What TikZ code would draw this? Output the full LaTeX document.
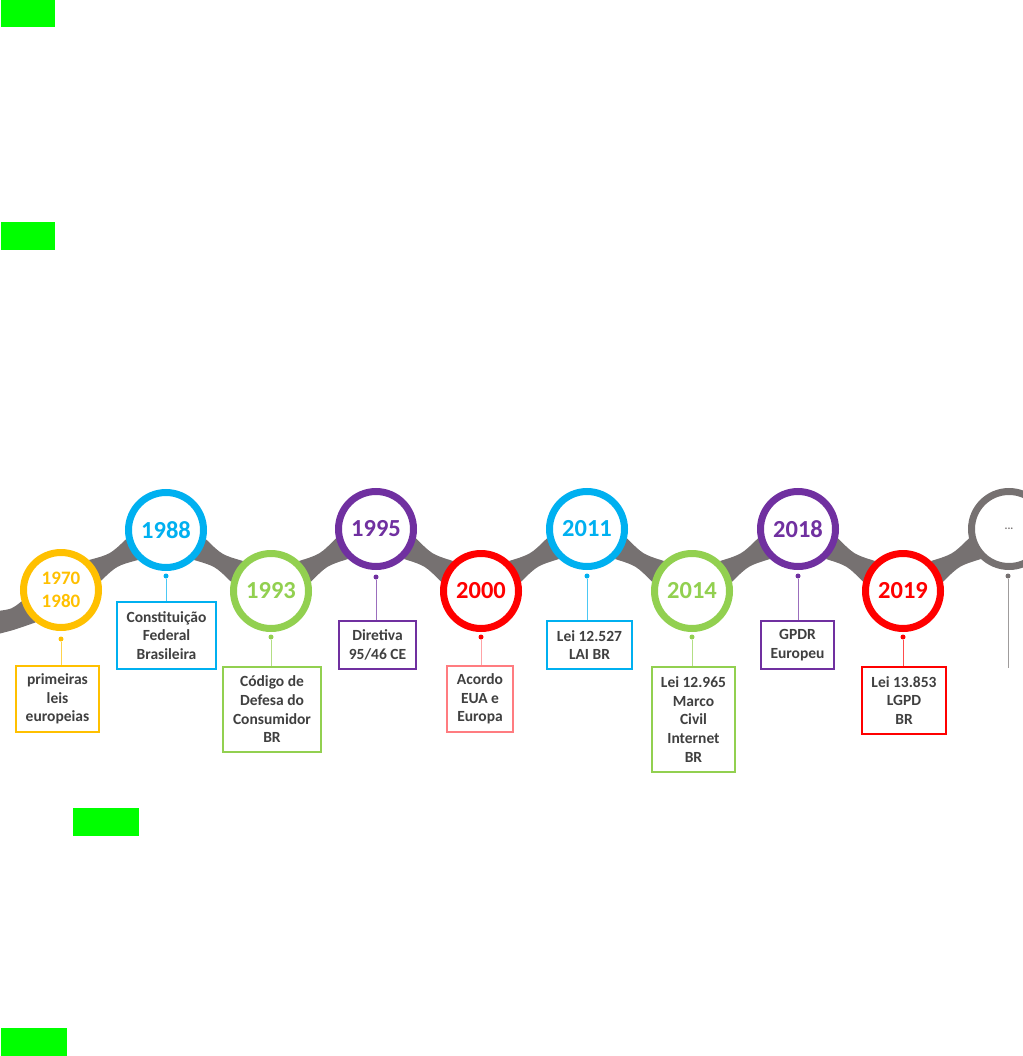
\documentclass[tikz,border=0pt]{standalone}
\usepackage{fontspec}
\setmainfont{Carlito}
\usepackage{tikz}
\usetikzlibrary{positioning,backgrounds,calc}
\definecolor{tlyellow}{RGB}{255,192,0}
\definecolor{tlblue}{RGB}{0,176,240}
\definecolor{tlgreen}{RGB}{146,208,80}
\definecolor{tlpurple}{RGB}{112,48,160}
\definecolor{tlred}{RGB}{255,0,0}
\definecolor{tlpink}{RGB}{255,124,128}
\definecolor{tlgray}{RGB}{118,113,113}
\definecolor{tltext}{RGB}{64,64,64}
\definecolor{marker}{RGB}{0,255,0}

\begin{document}
\begin{tikzpicture}[x=1pt, y=-1pt,
    yearc/.style={circle, draw=#1, line width=7pt, fill=white, minimum size=75pt, inner sep=0pt,
                  text=#1, align=center, font=\bfseries\fontsize{24.5}{26}\selectfont},
    evbox/.style={draw=#1, line width=1.6pt, fill=white, align=center, inner sep=0pt,
                  text=tltext, font=\bfseries\fontsize{15.5}{18.7}\selectfont},
    pindot/.style={circle, fill=#1, inner sep=0pt, minimum size=5pt},
    pinline/.style={draw=#1!70, line width=0.9pt},
    band/.style={fill=tlgray}
]
\useasboundingbox (0,0) rectangle (1022,1056);
% green markers
\fill[marker] (1,0) rectangle (55,27);
\fill[marker] (1,222) rectangle (55,250);
\fill[marker] (73,808) rectangle (139,836);
\fill[marker] (1,1028) rectangle (67,1056);

% year circles
\node[yearc=tlyellow, font=\bfseries\fontsize{19}{23}\selectfont] (c1) at (61,590) {1970\\1980};
\node[yearc=tlblue]   (c2) at (166,530) {1988};
\node[yearc=tlgreen]  (c3) at (271,591) {1993};
\node[yearc=tlpurple] (c4) at (376,529) {1995};
\node[yearc=tlred]    (c5) at (481,591) {2000};
\node[yearc=tlblue]   (c6) at (587,529) {2011};
\node[yearc=tlgreen]  (c7) at (692,591) {2014};
\node[yearc=tlpurple] (c8) at (798,529) {2018};
\node[yearc=tlred]    (c9) at (903,591) {2019};
\node[yearc=tlgray, font=\bfseries\fontsize{11}{12}\selectfont] (c10) at (1009,529) {...};

% the wavy band behind the circles
\begin{pgfonlayer}{background}
\fill[band] (-2,611) .. controls (12,609) .. (c1.196) -- (c1.232) .. controls (14,630) .. (-2,634) -- cycle;
\foreach \a/\b/\t in {c1/c2/30,c2/c3/-30,c3/c4/30,c4/c5/-30,c5/c6/30,c6/c7/-30,c7/c8/30,c8/c9/-30,c9/c10/30} {
    \pgfmathtruncatemacro\ta{\t+17}
    \pgfmathtruncatemacro\tb{\t-17}
    \pgfmathtruncatemacro\ra{\t+163}
    \pgfmathtruncatemacro\rb{\t+197}
    \fill[band] (\a.\ta) .. controls ($($(\a.\ta)!0.5!(\b.\ra)$)!0.45!($(\a)!0.5!(\b)$)$) .. (\b.\ra)
        -- (\b.\rb) .. controls ($($(\a.\tb)!0.5!(\b.\rb)$)!0.45!($(\a)!0.5!(\b)$)$) .. (\a.\tb) -- cycle;
}
\end{pgfonlayer}

% event boxes
\node[evbox=tlyellow, minimum width=83pt, minimum height=66pt] (b1) at (57.5,699) {primeiras\\leis\\europeias};
\node[evbox=tlblue,   minimum width=99pt, minimum height=67pt] (b2) at (166.5,635.5) {Constituição\\Federal\\Brasileira};
\node[evbox=tlgreen,  minimum width=98pt, minimum height=85pt] (b3) at (272,709.5) {Código de\\Defesa do\\Consumidor\\BR};
\node[evbox=tlpurple, minimum width=77pt, minimum height=48pt] (b4) at (377.5,645) {Diretiva\\95/46 CE};
\node[evbox=tlpink,   minimum width=66pt, minimum height=66pt] (b5) at (480,699) {Acordo\\EUA e\\Europa};
\node[evbox=tlblue,   minimum width=85pt, minimum height=48pt] (b6) at (589.5,645) {Lei 12.527\\LAI BR};
\node[evbox=tlgreen,  minimum width=83pt, minimum height=105pt] (b7) at (693.5,719.5) {Lei 12.965\\Marco\\Civil\\Internet\\BR};
\node[evbox=tlpurple, minimum width=73pt, minimum height=48pt] (b8) at (797.5,645) {GPDR\\Europeu};
\node[evbox=tlred,    minimum width=84pt, minimum height=67pt] (b9) at (904,700.5) {Lei 13.853\\LGPD\\BR};

% pins
\node[pindot=tlyellow] (d1) at (61,639) {};
\node[pindot=tlblue]   (d2) at (166,576) {};
\node[pindot=tlgreen]  (d3) at (271,637) {};
\node[pindot=tlpurple] (d4) at (376,577) {};
\node[pindot=tlred]    (d5) at (481,637) {};
\node[pindot=tlblue]   (d6) at (587,576) {};
\node[pindot=tlgreen]  (d7) at (692,637) {};
\node[pindot=tlpurple] (d8) at (798,576) {};
\node[pindot=tlred]    (d9) at (903,637) {};
\node[pindot=tlgray]   (d10) at (1008,576) {};
\coordinate (e10) at (1008,668);
\foreach \i/\c in {1/tlyellow,2/tlblue,3/tlgreen,4/tlpurple,5/tlpink,6/tlblue,7/tlgreen,8/tlpurple,9/tlred} {
    \draw[pinline=\c] (d\i) -- (d\i |- b\i.north);
}
\draw[pinline=tlgray] (d10) -- (e10);
\end{tikzpicture}
\end{document}
